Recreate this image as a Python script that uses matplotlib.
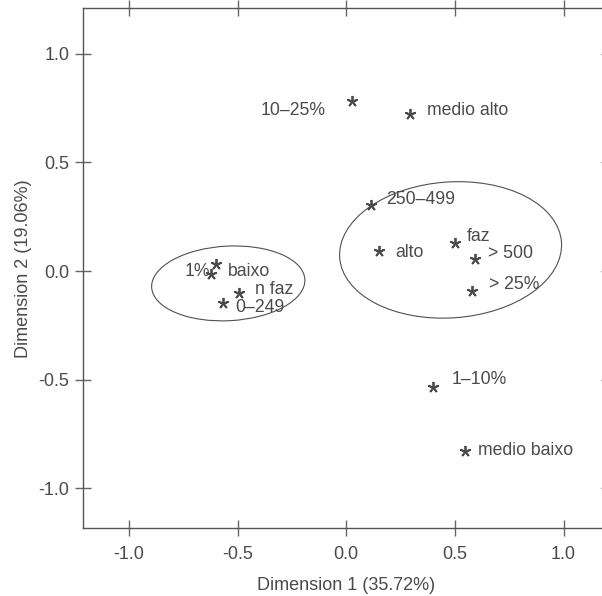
import matplotlib.pyplot as plt
from matplotlib.patches import Ellipse

plt.rcParams['font.family'] = ['Liberation Sans', 'DejaVu Sans']

# category coordinates on the first two dimensions
labels = ['10\u201325%', 'medio alto', '250\u2013499', 'alto', 'faz', '> 500',
          '> 25%', '1%', 'baixo', 'n faz', '0\u2013249', '1\u201310%', 'medio baixo']
dim1 = [0.025, 0.293, 0.112, 0.152, 0.502, 0.591,
        0.578, -0.600, -0.624, -0.494, -0.566, 0.400, 0.546]
dim2 = [0.783, 0.720, 0.303, 0.092, 0.130, 0.054,
        -0.090, 0.032, -0.015, -0.103, -0.146, -0.532, -0.826]

# label offsets in pixels (dx, dy) and horizontal alignment
label_dx = [-26, 17, 16, 16, 11, 13, 17, -6, 17, 16, 12, 18, 13]
label_dy = [-10, 4, 6, -2, 6, 6, 6, -7, 3, 4, -5, 7, 0]
label_ha = ['right', 'left', 'left', 'left', 'left', 'left',
            'left', 'right', 'left', 'left', 'left', 'left', 'left']

# cluster ellipses: centre x, centre y, width, height, angle
ell_x = [-0.543, 0.480]
ell_y = [-0.057, 0.097]
ell_w = [0.706, 1.023]
ell_h = [0.343, 0.625]
ell_a = [3, 4]

grey = '#4a4a4a'

fig = plt.figure(figsize=(6.02, 5.96), dpi=100)
ax = fig.add_axes([0.1384, 0.1136, 0.8736, 0.8725])

ax.plot(dim1, dim2, linestyle='none', marker=(5, 2, 0), markersize=8,
        markeredgewidth=1.3, color=grey)

for i, lab in enumerate(labels):
    ax.annotate(lab, (dim1[i], dim2[i]), xytext=(label_dx[i], label_dy[i]),
                textcoords='offset pixels', ha=label_ha[i], va='center',
                fontsize=12.7, color=grey)

for i in range(len(ell_x)):
    ax.add_patch(Ellipse((ell_x[i], ell_y[i]), ell_w[i], ell_h[i], angle=ell_a[i],
                         fill=False, edgecolor='#505050', linewidth=0.8))

ax.set_xlim(-1.21, 1.21)
ax.set_ylim(-1.183, 1.208)
ax.set_xticks([-1.0, -0.5, 0.0, 0.5, 1.0])
ax.set_yticks([-1.0, -0.5, 0.0, 0.5, 1.0])
ax.set_xticklabels(['-1.0', '-0.5', '0.0', '0.5', '1.0'])
ax.set_yticklabels(['-1.0', '-0.5', '0.0', '0.5', '1.0'])

for s in ax.spines.values():
    s.set_color('#555555')
    s.set_linewidth(1.0)

ax.tick_params(axis='both', direction='inout', length=12, width=1, color='#666666',
               labelsize=13, labelcolor=grey, top=True, right=True)
ax.tick_params(axis='x', pad=7)
ax.tick_params(axis='y', pad=4)

ax.set_xlabel('Dimension 1 (35.72%)', fontsize=13, color=grey, labelpad=10)
ax.set_ylabel('Dimension 2 (19.06%)', fontsize=13, color=grey, labelpad=5)

fig.savefig('out.png', dpi=100)
